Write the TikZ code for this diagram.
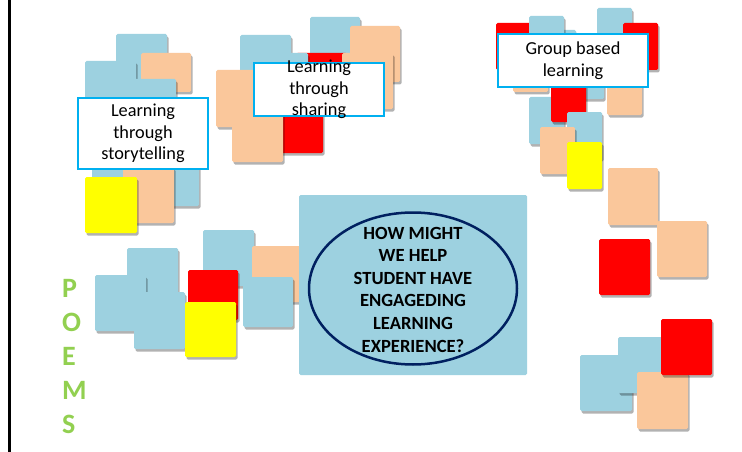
\documentclass[tikz,border=0pt]{standalone}
\usepackage{fontspec}
\setmainfont{Carlito}
\usetikzlibrary{shadows}
\definecolor{nblue}{HTML}{9DD1E0}
\definecolor{npeach}{HTML}{FAC79B}
\definecolor{nred}{HTML}{FF0000}
\definecolor{nyellow}{HTML}{FFFF00}
\definecolor{cframe}{HTML}{00B0F0}
\definecolor{cnavy}{HTML}{002060}
\definecolor{cgreen}{HTML}{92D050}

\begin{document}
\begin{tikzpicture}[x=1pt, y=-1pt,
  note/.style={fill=#1, rounded corners=1.5pt, drop shadow={shadow xshift=1.5pt, shadow yshift=-2.5pt, opacity=.3, fill=black}},
  lbl/.style={draw=cframe, line width=2.5pt, fill=white, inner sep=0pt, align=center, font=\fontsize{18.3}{21.5}\selectfont},
  lbltxt/.style={align=center, inner sep=0pt, font=\fontsize{18.3}{21.5}\selectfont},
  ask/.style={align=center, inner sep=0pt, font=\fontsize{18.6}{22.6}\selectfont\bfseries},
  poem/.style={anchor=base west, inner sep=0pt, text=cgreen, font=\fontsize{28}{28}\selectfont\bfseries}]
\useasboundingbox (0,0) rectangle (742,452);
\fill[white] (0,0) rectangle (742,452);
\draw[line width=3pt] (9.7,0) -- (9.7,452);

% storytelling
\foreach \c/\x/\y/\w/\h in {nblue/116/34/51/56, nblue/85/61/51/56, npeach/141/53/50/39,
    nblue/125/79/51/56, nblue/92/124/51/56, nblue/148/150/51/56, npeach/123/167/51/56, nyellow/85/177/52/56}
  \fill[note=\c] (\x,\y) rectangle ++(\w,\h);
% sharing
\foreach \c/\x/\y/\w/\h in {nblue/240/35/51/56, nblue/310/17/50/56, npeach/350/26/50/56, nred/296/53/51/56,
    nblue/257/53/51/56, npeach/342/53/51/56, npeach/216/70/51/57, nred/272/97/51/56, npeach/232/106/51/56}
  \fill[note=\c] (\x,\y) rectangle ++(\w,\h);
% group based
\foreach \c/\x/\y in {nblue/541/30, nred/496/23, nblue/529/16, nblue/597/8, nred/623/23, npeach/513/45,
    nblue/569/52, npeach/607/68, nblue/529/97, nred/551/75, nblue/567/112, npeach/540/127, nyellow/567/142}
  \fill[note=\c] (\x,\y) rectangle ++(35,47);
% right side
\foreach \c/\x/\y/\w/\h in {npeach/608/168/50/57, npeach/657/221/50/56, nred/599/239/51/56,
    nblue/580/355/52/56, nblue/618/337/51/56, npeach/637/372/51/57, nred/661/319/51/56}
  \fill[note=\c] (\x,\y) rectangle ++(\w,\h);
% bottom left
\foreach \c/\x/\y/\w/\h in {nblue/127/248/51/56, nblue/203/230/51/56, npeach/252/246/49/56, nblue/95/275/51/56,
    nblue/134/292/51/57, nred/188/270/50/50, nblue/243/277/50/50, nyellow/185/302/51/55}
  \fill[note=\c] (\x,\y) rectangle ++(\w,\h);

\fill[nblue, rounded corners=1.5pt] (299,195) rectangle (527,375);
\draw[cnavy, line width=2.5pt] (413,288.5) ellipse [x radius=104, y radius=76];
\node[ask] (question) at (413,289.5) {HOW MIGHT\\ WE HELP\\ STUDENT HAVE\\ ENGAGEDING\\ LEARNING\\ EXPERIENCE?};

\node[lbl, minimum width=130pt, minimum height=71pt] (story) at (143,133.5) {Learning\\ through\\ storytelling};
\node[lbl, minimum width=130pt, minimum height=53pt] (share) at (319,89.5) {};
\node[lbltxt] (sharetxt) at (share.center) {Learning\\ through\\ sharing};
\node[lbl, minimum width=150pt, minimum height=53pt] (group) at (573,60.5) {Group based\\ learning};

\foreach \ch [count=\i] in {P,O,E,M,S}
  \node[poem] (poem\i) at (62,{263+34*\i}) {\ch};
\end{tikzpicture}
\end{document}
